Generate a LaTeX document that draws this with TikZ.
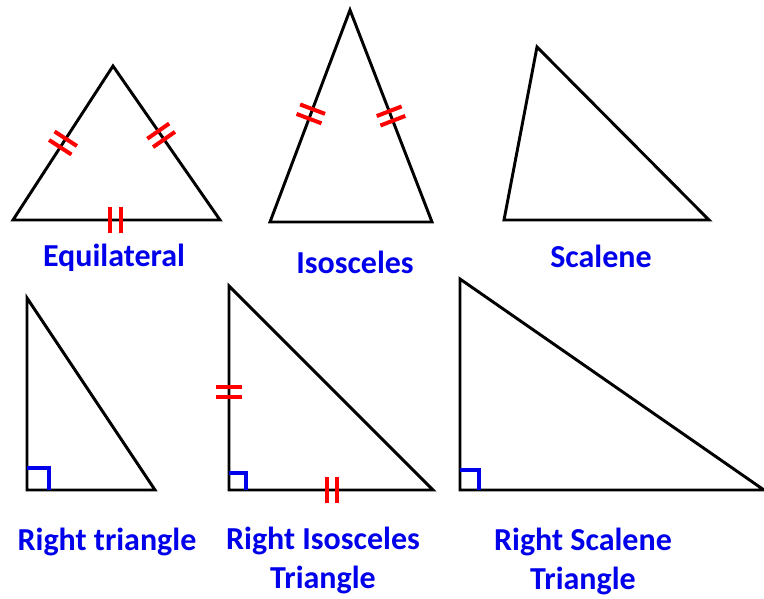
\documentclass[tikz,border=0pt]{standalone}
\usepackage{fontspec}
\setmainfont{Carlito}
\usetikzlibrary{calc, decorations.markings}
\definecolor{labelblue}{RGB}{0,0,235}
\definecolor{tickred}{RGB}{255,0,0}

\tikzset{
  side/.style={line width=2.2pt, black},
  tickmark/.style={draw=tickred, line width=3pt},
  rightmark/.style={draw=labelblue, line width=2.4pt},
  twoticks/.style={postaction={decorate, decoration={markings,
      mark=at position #1 with {\draw[tickmark] (-3.8pt,-10pt) -- (-3.8pt,10pt) (3.8pt,-10pt) -- (3.8pt,10pt);}}}},
  caption/.style={font=\fontsize{24}{29}\selectfont\bfseries, text=labelblue, align=center, inner sep=0pt}
}

\begin{document}
\begin{tikzpicture}[x=0.75pt, y=-0.75pt]
    \useasboundingbox (0,0) rectangle (764,599);

    % top row
    \coordinate (eqA) at (13,220);  \coordinate (eqB) at (220,220);  \coordinate (eqC) at (113,66);
    \coordinate (isA) at (270,222); \coordinate (isB) at (432,222); \coordinate (isC) at (350,10);
    \coordinate (scA) at (504,220); \coordinate (scB) at (709,220); \coordinate (scC) at (537,47);

    \draw[side] (eqA) -- (eqB) -- (eqC) -- cycle;
    \path[twoticks=0.5] (eqA) -- (eqC);
    \path[twoticks=0.45] (eqC) -- (eqB);
    \path[twoticks=0.495] (eqA) -- (eqB);

    \draw[side] (isA) -- (isB) -- (isC) -- cycle;
    \path[twoticks=0.51] (isA) -- (isC);
    \path[twoticks=0.5] (isC) -- (isB);

    \draw[side] (scA) -- (scB) -- (scC) -- cycle;

    \node[caption] (eqlabel) at (114,258) {Equilateral};
    \node[caption] (islabel) at (355,262) {Isosceles};
    \node[caption] (sclabel) at (601,256) {Scalene};

    % bottom row
    \coordinate (rtA) at (27,490);  \coordinate (rtB) at (155,490); \coordinate (rtC) at (27,298);
    \coordinate (riA) at (229,490); \coordinate (riB) at (433,490); \coordinate (riC) at (229,286);
    \coordinate (rsA) at (460,490); \coordinate (rsB) at (764,490); \coordinate (rsC) at (460,279);

    \draw[side] (rtA) -- (rtB) -- (rtC) -- cycle;
    \draw[rightmark] ($(rtA)+(0,-22)$) -- ++(22,0) -- ++(0,22);

    \draw[side] (riA) -- (riB) -- (riC) -- cycle;
    \draw[rightmark] ($(riA)+(0,-17)$) -- ++(17,0) -- ++(0,17);
    \path[twoticks=0.48] (riA) -- (riC);
    \path[twoticks=0.505] (riA) -- (riB);

    \draw[side] (rsA) -- (rsB) -- (rsC) -- cycle;
    \draw[rightmark] ($(rsA)+(0,-20)$) -- ++(19,0) -- ++(0,20);

    \node[caption] (rtlabel) at (107,542) {Right triangle};
    \node[caption, anchor=north] (rilabel) at (323,527) {Right Isosceles\\Triangle};
    \node[caption, anchor=north] (rslabel) at (583,528) {Right Scalene\\Triangle};
\end{tikzpicture}
\end{document}
